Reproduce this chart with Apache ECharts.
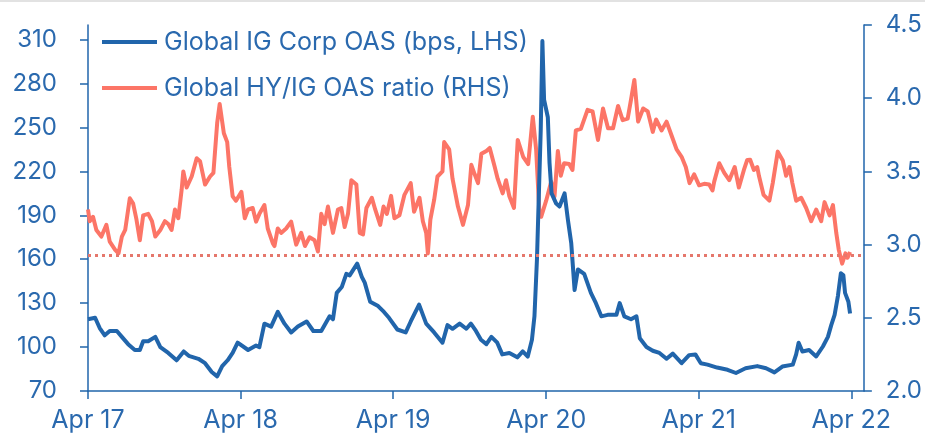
<!DOCTYPE html>
<html>
<head>
<meta charset="utf-8">
<script src="https://cdn.jsdelivr.net/npm/echarts@6/dist/echarts.min.js"></script>
<style>
html,body{margin:0;padding:0;background:#fff;}
#chart{width:925px;height:437px;}
</style>
</head>
<body>
<div id="chart"></div>
<script>
// ---------- Data ----------
const igName = 'Global IG Corp OAS (bps, LHS)';
const ratioName = 'Global HY/IG OAS ratio (RHS)';

const igDates = [
'2017-04-01','2017-04-18','2017-04-29','2017-05-11','2017-05-23','2017-06-09','2017-06-21','2017-07-06','2017-07-22','2017-08-03',
'2017-08-11','2017-08-23','2017-09-09','2017-09-21','2017-10-10','2017-10-30','2017-11-16','2017-11-28','2017-12-21','2018-01-06',
'2018-01-22','2018-02-04','2018-02-16','2018-03-01','2018-03-13','2018-03-25','2018-04-19','2018-05-08','2018-05-16','2018-05-28',
'2018-06-13','2018-06-29','2018-07-15','2018-07-31','2018-08-16','2018-09-06','2018-09-22','2018-10-11','2018-10-31','2018-11-08',
'2018-11-17','2018-11-29','2018-12-10','2018-12-18','2019-01-05','2019-01-16','2019-01-23','2019-02-05','2019-02-24','2019-03-10',
'2019-03-22','2019-04-11','2019-05-01','2019-05-13','2019-06-02','2019-06-19','2019-07-08','2019-07-28','2019-08-09','2019-08-21',
'2019-09-07','2019-09-23','2019-10-04','2019-10-16','2019-10-28','2019-11-10','2019-11-22','2019-12-06','2019-12-18','2020-01-04',
'2020-01-23','2020-02-05','2020-02-17','2020-02-27','2020-03-04','2020-03-10','2020-03-19','2020-03-23','2020-03-27','2020-04-05',
'2020-04-09','2020-04-14','2020-04-25','2020-05-03','2020-05-15','2020-05-23','2020-05-31','2020-06-08','2020-06-16','2020-07-01',
'2020-07-17','2020-07-29','2020-08-11','2020-08-26','2020-09-16','2020-09-24','2020-10-05','2020-10-21','2020-11-03','2020-11-11',
'2020-11-27','2020-12-12','2020-12-28','2021-01-14','2021-01-29','2021-02-19','2021-03-09','2021-03-24','2021-04-06','2021-04-22',
'2021-05-15','2021-06-09','2021-06-29','2021-07-22','2021-08-19','2021-09-09','2021-09-29','2021-10-18','2021-11-12','2021-11-20',
'2021-11-26','2021-12-05','2021-12-21','2022-01-07','2022-01-23','2022-02-04','2022-02-12','2022-02-20','2022-02-28','2022-03-07',
'2022-03-13','2022-03-17','2022-03-25','2022-03-29'
];
const igValues = [
119,120,113,108,111,111,107,102,98,98,
104,104,107,100,96,91,97,94,92,89,
83,80,87,91,96,103,98,101,100,116,
114,124,116,110,114,117.5,111,111,121,119,
137,141,150,149,157,148,144,131,128,124,
120,112,110,117.5,129,116,110,103,115,112.5,
116,112.5,116,111,105,102,107,103,95,96,
93,97,93.5,105,121,160,248,309,269,257,
226,205,198,196,205,187,171,139,153,150,
137,130,121,122,122,130,121,119,121,106,
100,97.5,96,92,95.5,89,94.5,95,89,88,
86,84.5,82.3,85.5,87,85.5,82.7,86.7,88,95,
103,97,98,93.6,100.4,107,115,122,135,150.5,
149,137,131,123
];

const ratioDates = [
'2017-04-01','2017-04-05','2017-04-13','2017-04-21','2017-05-03','2017-05-15','2017-05-23','2017-06-05','2017-06-13','2017-06-21',
'2017-06-29','2017-07-10','2017-07-18','2017-07-26','2017-08-03','2017-08-11','2017-08-23','2017-09-01','2017-09-09','2017-09-21',
'2017-10-02','2017-10-10','2017-10-18','2017-10-26','2017-11-03','2017-11-11','2017-11-15','2017-11-23','2017-12-05','2017-12-17',
'2017-12-25','2018-01-06','2018-01-18','2018-01-26','2018-02-04','2018-02-10','2018-02-20','2018-02-28','2018-03-05','2018-03-13',
'2018-03-21','2018-04-03','2018-04-11','2018-04-19','2018-04-30','2018-05-08','2018-05-16','2018-05-28','2018-06-05','2018-06-17',
'2018-06-21','2018-06-29','2018-07-07','2018-07-19','2018-07-31','2018-08-12','2018-08-24','2018-09-02','2018-09-13','2018-09-25',
'2018-10-03','2018-10-11','2018-10-19','2018-10-27','2018-11-08','2018-11-20','2018-11-28','2018-12-06','2018-12-14','2018-12-22',
'2018-12-26','2019-01-03','2019-01-11','2019-01-19','2019-01-27','2019-02-09','2019-02-17','2019-03-01','2019-03-09','2019-03-17',
'2019-03-27','2019-04-04','2019-04-16','2019-04-28','2019-05-13','2019-05-21','2019-06-03','2019-06-11','2019-06-19','2019-06-23',
'2019-06-29','2019-07-08','2019-07-16','2019-07-28','2019-08-01','2019-08-13','2019-08-21','2019-09-03','2019-09-15','2019-09-27',
'2019-10-05','2019-10-13','2019-10-21','2019-10-29','2019-11-10','2019-11-18','2019-11-30','2019-12-07','2019-12-19','2019-12-27',
'2020-01-04','2020-01-15','2020-01-24','2020-02-06','2020-02-18','2020-02-29','2020-03-08','2020-03-16','2020-03-20','2020-04-01',
'2020-04-13','2020-04-21','2020-04-29','2020-05-06','2020-05-14','2020-05-26','2020-06-03','2020-06-11','2020-06-23','2020-07-09',
'2020-07-21','2020-08-03','2020-08-15','2020-08-27','2020-09-08','2020-09-20','2020-10-01','2020-10-13','2020-10-21','2020-10-29',
'2020-11-07','2020-11-19','2020-11-30','2020-12-12','2020-12-20','2021-01-02','2021-01-14','2021-01-26','2021-02-07','2021-02-19',
'2021-03-01','2021-03-10','2021-03-21','2021-04-02','2021-04-14','2021-04-26','2021-05-04','2021-05-08','2021-05-20','2021-06-01',
'2021-06-13','2021-06-26','2021-07-06','2021-07-18','2021-07-26','2021-08-02','2021-08-11','2021-08-19','2021-08-23','2021-09-03',
'2021-09-17','2021-09-25','2021-10-07','2021-10-19','2021-10-27','2021-11-04','2021-11-11','2021-11-20','2021-12-02','2021-12-14',
'2021-12-26','2022-01-07','2022-01-19','2022-01-27','2022-02-08','2022-02-16','2022-02-24','2022-03-02','2022-03-10','2022-03-18',
'2022-03-23','2022-03-29'
];
const ratioValues = [
3.24,3.16,3.19,3.10,3.055,3.135,3.02,2.964,2.94,3.055,
3.10,3.317,3.28,3.17,3.03,3.20,3.21,3.16,3.055,3.10,
3.16,3.14,3.10,3.24,3.18,3.374,3.50,3.39,3.465,3.59,
3.57,3.41,3.465,3.49,3.83,3.96,3.76,3.70,3.53,3.33,
3.30,3.36,3.18,3.24,3.25,3.157,3.21,3.27,3.11,3.01,
2.99,3.11,3.08,3.11,3.157,3.00,3.08,2.99,3.05,3.03,
2.953,3.21,3.14,3.26,3.08,3.24,3.25,3.12,3.21,3.44,
3.45,3.41,3.08,3.07,3.25,3.32,3.24,3.135,3.26,3.21,
3.333,3.18,3.20,3.34,3.42,3.225,3.32,3.16,3.08,2.94,
3.17,3.305,3.465,3.50,3.70,3.65,3.45,3.26,3.135,3.27,
3.545,3.48,3.42,3.62,3.64,3.66,3.53,3.45,3.35,3.44,
3.33,3.25,3.715,3.60,3.55,3.874,3.65,3.21,3.19,3.30,
3.43,3.33,3.64,3.47,3.556,3.55,3.51,3.78,3.79,3.92,
3.91,3.715,3.93,3.795,3.795,3.947,3.85,3.86,3.99,4.125,
3.84,3.93,3.91,3.77,3.855,3.78,3.84,3.745,3.65,3.60,
3.53,3.42,3.48,3.405,3.415,3.41,3.37,3.43,3.556,3.49,
3.44,3.53,3.39,3.51,3.578,3.58,3.51,3.53,3.47,3.34,
3.30,3.42,3.635,3.575,3.47,3.53,3.42,3.30,3.32,3.25,
3.16,3.24,3.16,3.29,3.20,3.27,3.08,2.964,2.87,2.94,
2.91,2.95
];

const ratioAverage = 2.93;

const leftTicks = [70, 100, 130, 160, 190, 220, 250, 280, 310];
const rightTicks = [2.0, 2.5, 3.0, 3.5, 4.0, 4.5];
const xTickDates = ['2017-04-01','2018-04-01','2019-04-01','2020-04-01','2021-04-01','2022-04-01'];
const xTickLabels = ['Apr 17','Apr 18','Apr 19','Apr 20','Apr 21','Apr 22'];
const xMin = '2017-04-01';
const xMax = '2022-05-01';

// ---------- Chart ----------
const BLUE = '#2165ab';
const TEXT = '#2a69ae';
const SALMON = '#fc7567';
const DOT = '#e5776c';
const FONT = 'Inter, "Noto Sans", sans-serif';

const toTs = d => Date.UTC(+d.slice(0, 4), +d.slice(5, 7) - 1, +d.slice(8, 10));
const xTickTs = xTickDates.map(toTs);

const chart = echarts.init(document.getElementById('chart'), null, {renderer: 'canvas'});
chart.setOption({
  animation: false,
  backgroundColor: '#ffffff',
  textStyle: {fontFamily: FONT},
  graphic: [{
    type: 'line', shape: {x1: 0, y1: 1, x2: 925, y2: 1},
    style: {stroke: '#e2e2e2', lineWidth: 2}, silent: true
  }],
  grid: {left: 88, right: 60, top: 25, bottom: 46, containLabel: false},
  legend: {
    orient: 'vertical', left: 97, top: 24, itemGap: 20,
    itemWidth: 55, itemHeight: 4, icon: 'rect',
    data: [igName, ratioName],
    textStyle: {color: TEXT, fontSize: 25, fontFamily: FONT, lineHeight: 26, padding: [0, 0, 0, 2]},
    selectedMode: false
  },
  xAxis: {
    type: 'value', min: toTs(xMin), max: toTs(xMax),
    axisLine: {show: true, lineStyle: {color: BLUE, width: 1.5}},
    axisTick: {show: true, length: 8, lineStyle: {color: BLUE, width: 1.5}, customValues: xTickTs},
    axisLabel: {
      color: TEXT, fontSize: 25, fontFamily: FONT, margin: 17, customValues: xTickTs,
      formatter: v => { const i = xTickTs.indexOf(v); return i >= 0 ? xTickLabels[i] : ''; }
    },
    splitLine: {show: false}
  },
  yAxis: [{
    type: 'value', position: 'left', min: 70, max: 320, interval: 30,
    axisLine: {show: true, lineStyle: {color: BLUE, width: 1.5}},
    axisTick: {show: true, length: 8, lineStyle: {color: BLUE, width: 1.5}, customValues: leftTicks},
    axisLabel: {color: TEXT, fontSize: 24, fontFamily: FONT, margin: 31, customValues: leftTicks},
    splitLine: {show: false}
  }, {
    type: 'value', position: 'right', min: 2, max: 4.5, interval: 0.5,
    axisLine: {show: true, lineStyle: {color: BLUE, width: 1.5}},
    axisTick: {show: true, length: 8, lineStyle: {color: BLUE, width: 1.5}, customValues: rightTicks},
    axisLabel: {color: TEXT, fontSize: 24, fontFamily: FONT, margin: 22, customValues: rightTicks,
      formatter: v => v.toFixed(1)},
    splitLine: {show: false}
  }],
  series: [{
    name: ratioName, type: 'line', yAxisIndex: 1,
    symbol: 'none', showSymbol: false,
    lineStyle: {color: SALMON, width: 4, join: 'round'},
    itemStyle: {color: SALMON},
    data: ratioDates.map((d, i) => [toTs(d), ratioValues[i]]),
    markLine: {
      silent: true, symbol: ['none', 'none'], label: {show: false},
      lineStyle: {color: DOT, width: 3, type: [3, 4]},
      emphasis: {disabled: true},
      data: [{yAxis: ratioAverage}]
    }
  }, {
    name: igName, type: 'line', yAxisIndex: 0,
    symbol: 'none', showSymbol: false,
    lineStyle: {color: BLUE, width: 4, join: 'round'},
    itemStyle: {color: BLUE},
    data: igDates.map((d, i) => [toTs(d), igValues[i]])
  }]
});
</script>
</body>
</html>
